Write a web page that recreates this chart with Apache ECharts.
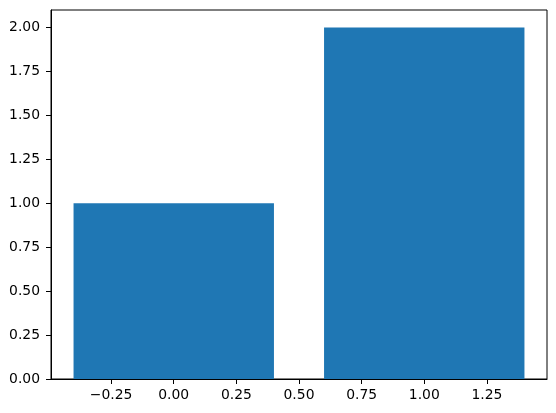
<!DOCTYPE html>
<html>
<head>
<meta charset="utf-8">
<script src="https://cdn.jsdelivr.net/npm/echarts@6/dist/echarts.min.js"></script>
<style>html,body{margin:0;padding:0;background:#fff;}#c{width:556px;height:413px;}</style>
</head>
<body>
<div id="c"></div>
<script>
const categories = [0, 1];
const values = [1, 2];
const barWidth = 0.8;
const xTicks = [-0.25, 0, 0.25, 0.5, 0.75, 1.0, 1.25];
const yTicks = [0, 0.25, 0.5, 0.75, 1.0, 1.25, 1.5, 1.75, 2.0];

const fmt = v => {
  const s = Math.abs(v).toFixed(2);
  return (v < 0 ? '\u2212' : '') + s;
};
const font = { fontFamily: 'DejaVu Sans', fontSize: 13.9, color: '#000' };

const chart = echarts.init(document.getElementById('c'), null, { renderer: 'canvas' });
chart.setOption({
  animation: false,
  backgroundColor: '#fff',
  grid: { left: 51, right: 9, top: 10, bottom: 34, show: true, borderColor: '#000', borderWidth: 1, backgroundColor: 'transparent' },
  xAxis: {
    type: 'value', min: -0.49, max: 1.49,
    splitLine: { show: false },
    axisLine: { show: true, onZero: false, lineStyle: { color: '#000', width: 1 } },
    axisTick: { show: true, length: 5, lineStyle: { color: '#000' }, customValues: xTicks },
    axisLabel: Object.assign({ margin: 9, customValues: xTicks, formatter: fmt }, font)
  },
  yAxis: {
    type: 'value', min: 0, max: 2.1,
    splitLine: { show: false },
    axisLine: { show: true, onZero: false, lineStyle: { color: '#000', width: 1 } },
    axisTick: { show: true, length: 5, lineStyle: { color: '#000' }, customValues: yTicks },
    axisLabel: Object.assign({ margin: 11, customValues: yTicks, formatter: fmt }, font)
  },
  series: [{
    type: 'custom',
    z: 1,
    data: categories.map((c, i) => [c, values[i]]),
    encode: { x: 0, y: 1 },
    renderItem: function (params, api) {
      const x = api.value(0), y = api.value(1);
      const p0 = api.coord([x - barWidth / 2, 0]);
      const p1 = api.coord([x + barWidth / 2, y]);
      return {
        type: 'rect',
        shape: { x: p0[0], y: p1[1], width: p1[0] - p0[0], height: p0[1] - p1[1] },
        style: { fill: '#1f77b4' }
      };
    }
  }]
});
</script>
</body>
</html>
